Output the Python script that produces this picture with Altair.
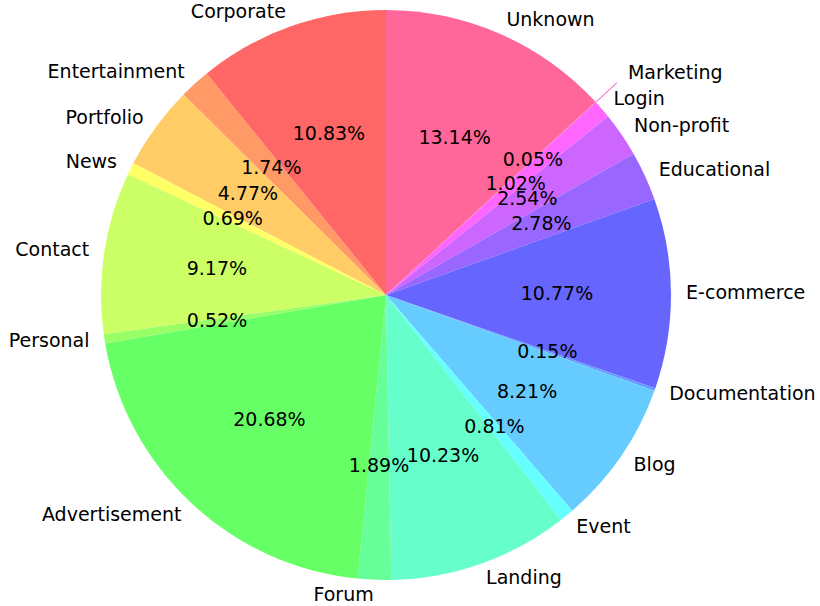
import json
import math
import altair as alt
import pandas as pd

# Slices listed clockwise from 12 o'clock
names = ["Unknown", "Marketing", "Login", "Non-profit", "Educational", "E-commerce",
         "Documentation", "Blog", "Event", "Landing", "Forum", "Advertisement",
         "Personal", "Contact", "News", "Portfolio", "Entertainment", "Corporate"]
shares = [13.14, 0.05, 1.02, 2.54, 2.78, 10.77, 0.15, 8.21, 0.81, 10.23, 1.89,
          20.68, 0.52, 9.17, 0.69, 4.77, 1.74, 10.83]
colors = ["#ff6699", "#ff66cc", "#ff66ff", "#cc66ff", "#9966ff", "#6666ff",
          "#6699ff", "#66ccff", "#66ffff", "#66ffcc", "#66ff99", "#66ff66",
          "#99ff66", "#ccff66", "#ffff66", "#ffcc66", "#ff9966", "#ff6666"]
exploded = ["Marketing"]

R = 285
EXP = 0.1 * R
FONT = "DejaVu Sans"

df = pd.DataFrame({"name": names, "share": shares, "idx": list(range(len(names)))})
total = float(sum(shares))

theta_scale = alt.Scale(domain=[0, total], range=[0, 2 * math.pi])

base = alt.Chart(df).transform_window(
    end="sum(share)", sort=[alt.SortField("idx")]
).transform_calculate(
    start="datum.end - datum.share",
    mid="datum.end - datum.share / 2",
    ex=f"indexof({json.dumps(exploded)}, datum.name) >= 0 ? 1 : 0",
).transform_calculate(
    r_out=f"{R} + datum.ex * {EXP}",
    r_in=f"datum.ex * {EXP}",
    r_pct=f"{0.6 * R} + datum.ex * {EXP}",
    r_lab=f"{1.053 * R} + datum.ex * {EXP}",
    right=f"datum.mid < {total / 2}",
    pct="format(datum.share, '.2f') + '%'",
)

arcs = base.mark_arc(strokeWidth=0).encode(
    theta=alt.Theta("start:Q", stack=False, scale=theta_scale),
    theta2="end:Q",
    radius=alt.Radius("r_out:Q", scale=None),
    radius2="r_in:Q",
    color=alt.Color("name:N", scale=alt.Scale(domain=names, range=colors), legend=None),
)

pct_text = base.mark_text(font=FONT, fontSize=19, color="black",
                          align="center", baseline="middle").encode(
    theta=alt.Theta("mid:Q", stack=False, scale=theta_scale),
    radius=alt.Radius("r_pct:Q", scale=None),
    text="pct:N",
)

lab_right = base.transform_filter("datum.right").mark_text(
    font=FONT, fontSize=19, color="black", align="left", baseline="middle"
).encode(
    theta=alt.Theta("mid:Q", stack=False, scale=theta_scale),
    radius=alt.Radius("r_lab:Q", scale=None),
    text="name:N",
)

lab_left = base.transform_filter("!datum.right").mark_text(
    font=FONT, fontSize=19, color="black", align="right", baseline="middle"
).encode(
    theta=alt.Theta("mid:Q", stack=False, scale=theta_scale),
    radius=alt.Radius("r_lab:Q", scale=None),
    text="name:N",
)

chart = alt.layer(arcs, pct_text, lab_right, lab_left).properties(
    width=772, height=590,
    autosize=alt.AutoSizeParams(type="none"),
    padding={"left": 0, "top": 0, "right": 48, "bottom": 16},
).configure_view(stroke=None).configure(background="white")

chart.save("out.html", embed_options={"renderer": "svg", "actions": False})
